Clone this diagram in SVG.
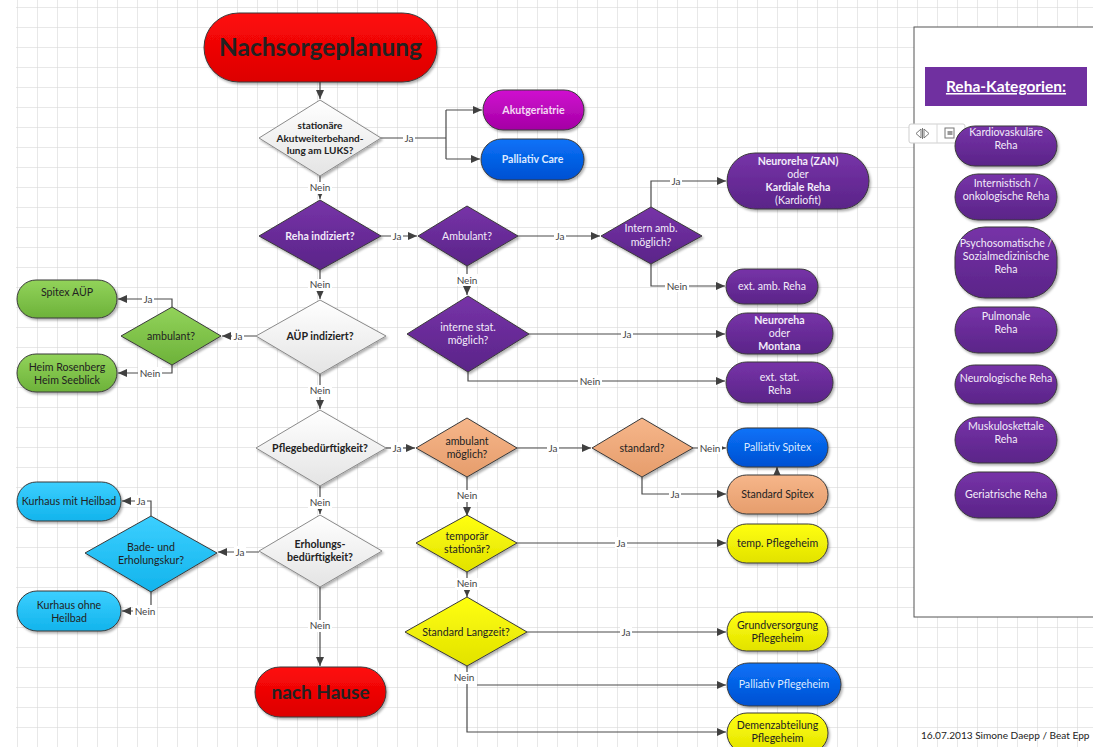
<svg xmlns="http://www.w3.org/2000/svg" width="1093" height="747" viewBox="0 0 1093 747">
<defs>
<pattern id="grid" x="17" y="7" width="20" height="20" patternUnits="userSpaceOnUse">
<path d="M0 0H20M0 0V20" fill="none" stroke="#d2d2d2" stroke-width="1"/>
</pattern>
<linearGradient id="gRed" x1="0" y1="0" x2="0" y2="1"><stop offset="0" stop-color="#ff0a0a"/><stop offset="1" stop-color="#dc0000"/></linearGradient>
<linearGradient id="gPur" x1="0" y1="0" x2="0" y2="1"><stop offset="0" stop-color="#7733a8"/><stop offset="1" stop-color="#5a2488"/></linearGradient>
<linearGradient id="gMag" x1="0" y1="0" x2="0" y2="1"><stop offset="0" stop-color="#d010d0"/><stop offset="1" stop-color="#a400a4"/></linearGradient>
<linearGradient id="gBlue" x1="0" y1="0" x2="0" y2="1"><stop offset="0" stop-color="#0a72f8"/><stop offset="1" stop-color="#0050d2"/></linearGradient>
<linearGradient id="gGreen" x1="0" y1="0" x2="0" y2="1"><stop offset="0" stop-color="#92d35a"/><stop offset="1" stop-color="#6db23a"/></linearGradient>
<linearGradient id="gOra" x1="0" y1="0" x2="0" y2="1"><stop offset="0" stop-color="#f6b68a"/><stop offset="1" stop-color="#e69d6c"/></linearGradient>
<linearGradient id="gYel" x1="0" y1="0" x2="0" y2="1"><stop offset="0" stop-color="#ffff10"/><stop offset="1" stop-color="#e2e200"/></linearGradient>
<linearGradient id="gCyan" x1="0" y1="0" x2="0" y2="1"><stop offset="0" stop-color="#3ccfff"/><stop offset="1" stop-color="#12b4ec"/></linearGradient>
<linearGradient id="gWhite" x1="0" y1="0" x2="0" y2="1"><stop offset="0" stop-color="#ffffff"/><stop offset="1" stop-color="#e4e4e4"/></linearGradient>
<filter id="sh" x="-10%" y="-10%" width="125%" height="130%"><feDropShadow dx="1.5" dy="2" stdDeviation="1.2" flood-color="#000" flood-opacity="0.3"/></filter>
<marker id="ah" markerWidth="10" markerHeight="10" refX="9" refY="5" orient="auto" markerUnits="userSpaceOnUse">
<path d="M0 1L9 5L0 9Z" fill="#404040"/>
</marker>
<style>
text{font-family:Lato,"Liberation Sans",sans-serif;font-size:10.6px;text-anchor:middle}
.b{font-weight:bold}
.w{fill:#f3ecfa}
.d{fill:#222}
.lb{fill:#dde9ff}
.node rect,.node polygon{stroke:#3a3a3a;stroke-width:1;filter:url(#sh)}
.wd polygon{stroke:#8a8a8a}
#connectors path{fill:none;stroke:#4a4a4a;stroke-width:1.2}
#connectors .a{marker-end:url(#ah)}
.lbl text{fill:#444;font-size:10px}
.lbl rect{fill:#fff}
</style>
</defs>
<rect x="0" y="0" width="1093" height="747" fill="#fff"/>
<rect x="16" y="0" width="1077" height="747" fill="url(#grid)"/>

<g id="connectors">
<path class="a" d="M320 82V99"/>
<path d="M381 138H446M446 110V159"/>
<path class="a" d="M446 110H482"/>
<path class="a" d="M446 159H480"/>
<path class="a" d="M320 176V199"/>
<path class="a" d="M381 236H417"/>
<path class="a" d="M518 236H600"/>
<path class="a" d="M651 207V181H726"/>
<path class="a" d="M651 264V286H725"/>
<path class="a" d="M467 266V295"/>
<path class="a" d="M529 334H725"/>
<path class="a" d="M468 372V381H725"/>
<path class="a" d="M320 270V299"/>
<path class="a" d="M256 336H222"/>
<path class="a" d="M172 307V299H118"/>
<path class="a" d="M172 365V373H118"/>
<path class="a" d="M320 374V409"/>
<path class="a" d="M386 448H415"/>
<path class="a" d="M517 448H591"/>
<path class="a" d="M693 448H726"/>
<path class="a" d="M642 477V494H726"/>
<path class="a" d="M777 475V467"/>
<path class="a" d="M467 477V516"/>
<path class="a" d="M517 543H726"/>
<path class="a" d="M467 572V597"/>
<path class="a" d="M527 632H726"/>
<path class="a" d="M467 666V732H726"/>
<path class="a" d="M477 685H726"/>
<path class="a" d="M320 486V514"/>
<path class="a" d="M259 552H218"/>
<path class="a" d="M151 516V501H122"/>
<path class="a" d="M151 592V611H122"/>
<path class="a" d="M320 587V666"/>
<g class="lbl">
<rect x="403" y="132" width="12" height="12"/><text x="409" y="141.5">Ja</text>
<rect x="308" y="182" width="24" height="12"/><text x="320" y="191">Nein</text>
<rect x="391" y="230" width="12" height="12"/><text x="397" y="239.5">Ja</text>
<rect x="554" y="230" width="12" height="12"/><text x="560" y="239.5">Ja</text>
<rect x="670" y="175" width="12" height="12"/><text x="676" y="184.5">Ja</text>
<rect x="665" y="280" width="24" height="12"/><text x="677" y="289.5">Nein</text>
<rect x="455" y="274" width="24" height="12"/><text x="467" y="283.5">Nein</text>
<rect x="621" y="328" width="12" height="12"/><text x="627" y="337.5">Ja</text>
<rect x="578" y="375" width="24" height="12"/><text x="590" y="384.5">Nein</text>
<rect x="308" y="279" width="24" height="12"/><text x="320" y="288">Nein</text>
<rect x="232" y="330" width="12" height="12"/><text x="238" y="339.5">Ja</text>
<rect x="142" y="293" width="12" height="12"/><text x="148" y="302.5">Ja</text>
<rect x="138" y="367" width="24" height="12"/><text x="150" y="376.5">Nein</text>
<rect x="308" y="385" width="24" height="12"/><text x="320" y="394">Nein</text>
<rect x="391" y="442" width="12" height="12"/><text x="397" y="451.5">Ja</text>
<rect x="547" y="442" width="12" height="12"/><text x="553" y="451.5">Ja</text>
<rect x="698" y="442" width="24" height="12"/><text x="710" y="451.5">Nein</text>
<rect x="669" y="488" width="12" height="12"/><text x="675" y="497.5">Ja</text>
<rect x="455" y="490" width="24" height="12"/><text x="467" y="499">Nein</text>
<rect x="615" y="537" width="12" height="12"/><text x="621" y="546.5">Ja</text>
<rect x="455" y="578" width="24" height="12"/><text x="467" y="587">Nein</text>
<rect x="620" y="626" width="12" height="12"/><text x="626" y="635.5">Ja</text>
<rect x="452" y="672" width="24" height="12"/><text x="464" y="681">Nein</text>
<rect x="308" y="497" width="24" height="12"/><text x="320" y="506">Nein</text>
<rect x="234" y="546" width="12" height="12"/><text x="240" y="555.5">Ja</text>
<rect x="135" y="495" width="12" height="12"/><text x="141" y="504.5">Ja</text>
<rect x="133" y="605" width="24" height="12"/><text x="145" y="614.5">Nein</text>
<rect x="308" y="620" width="24" height="12"/><text x="320" y="629">Nein</text>
</g>
</g>

<g id="n-start" class="node"><rect x="204" y="13" width="233" height="69" rx="34.5" fill="url(#gRed)"/><text x="320.5" y="55.5" class="b d" style="font-size:24.5px">Nachsorgeplanung</text></g>

<g id="n-stationaer" class="node wd"><polygon points="320,100 381,138 320,176 259,138" fill="url(#gWhite)"/>
<text class="b d" x="320" y="129" style="font-size:10px">stationäre</text><text class="b d" x="320" y="141.5" style="font-size:10px">Akutweiterbehand-</text><text class="b d" x="320" y="154" style="font-size:10px">lung am LUKS?</text></g>

<g id="n-akutger" class="node"><rect x="483" y="90" width="101" height="40" rx="20" fill="url(#gMag)"/><text class="b" x="533.5" y="114" style="fill:#f4d8f4">Akutgeriatrie</text></g>
<g id="n-palcare" class="node"><rect x="481" y="139" width="103" height="41" rx="20.5" fill="url(#gBlue)"/><text class="b lb" x="532.5" y="163">Palliativ Care</text></g>

<g id="n-reha" class="node"><polygon points="320,200 381,236 320,270 259,236" fill="url(#gPur)"/><text class="b w" x="320" y="239.5">Reha indiziert?</text></g>
<g id="n-ambulant" class="node"><polygon points="467,206 518,236 467,266 418,236" fill="url(#gPur)"/><text class="w" x="467" y="239.5">Ambulant?</text></g>
<g id="n-internamb" class="node"><polygon points="651,207 702,236 651,264 601,236" fill="url(#gPur)"/><text class="w" x="651" y="232">Intern amb.</text><text class="w" x="651" y="245.5">möglich?</text></g>
<g id="n-neuroZAN" class="node"><rect x="727" y="153" width="142" height="56" rx="28" fill="url(#gPur)"/>
<text class="b w" x="798" y="164.5">Neuroreha (ZAN)</text><text class="w" x="798" y="177.5">oder</text><text class="b w" x="798" y="190.5">Kardiale Reha</text><text class="w" x="798" y="204">(Kardiofit)</text></g>
<g id="n-extamb" class="node"><rect x="726" y="269" width="92" height="35" rx="17.5" fill="url(#gPur)"/><text class="w" x="772" y="290">ext. amb. Reha</text></g>
<g id="n-internstat" class="node"><polygon points="468,296 529,334 468,372 407,334" fill="url(#gPur)"/><text class="w" x="468" y="330.5">interne stat.</text><text class="w" x="468" y="343.5">möglich?</text></g>
<g id="n-neuroMont" class="node"><rect x="726" y="313" width="107" height="41" rx="20.5" fill="url(#gPur)"/>
<text class="b w" x="779.5" y="323.5">Neuroreha</text><text class="w" x="779.5" y="336.5">oder</text><text class="b w" x="779.5" y="350">Montana</text></g>
<g id="n-extstat" class="node"><rect x="726" y="362" width="107" height="41" rx="20.5" fill="url(#gPur)"/><text class="w" x="779.5" y="380.5">ext. stat.</text><text class="w" x="779.5" y="393.5">Reha</text></g>

<g id="n-aeup" class="node wd"><polygon points="320,300 386,336 320,374 256,336" fill="url(#gWhite)"/><text class="b d" x="320" y="339.5">AÜP indiziert?</text></g>
<g id="n-ambgreen" class="node"><polygon points="172,307 221,336 172,365 121,336" fill="url(#gGreen)"/><text class="d" x="171" y="339.5">ambulant?</text></g>
<g id="n-spitexaeup" class="node"><rect x="17" y="280" width="100" height="38" rx="19" fill="url(#gGreen)"/><text class="d" x="67" y="295.5">Spitex AÜP</text></g>
<g id="n-heim" class="node"><rect x="17" y="354" width="100" height="38" rx="19" fill="url(#gGreen)"/><text class="d" x="67" y="370.5">Heim Rosenberg</text><text class="d" x="67" y="383.5">Heim Seeblick</text></g>

<g id="n-pflege" class="node wd"><polygon points="320,410 386,448 320,486 256,448" fill="url(#gWhite)"/><text class="b d" x="320" y="451.5">Pflegebedürftigkeit?</text></g>
<g id="n-ambmoeg" class="node"><polygon points="467,418 517,448 467,477 416,448" fill="url(#gOra)"/><text class="d" x="467" y="444.5">ambulant</text><text class="d" x="467" y="457.5">möglich?</text></g>
<g id="n-standard" class="node"><polygon points="642,418 693,448 642,477 592,448" fill="url(#gOra)"/><text class="d" x="642" y="451.5">standard?</text></g>
<g id="n-palspitex" class="node"><rect x="727" y="428" width="101" height="39" rx="19.5" fill="url(#gBlue)"/><text class="lb" x="777.5" y="451">Palliativ Spitex</text></g>
<g id="n-stdspitex" class="node"><rect x="727" y="475" width="101" height="39" rx="19.5" fill="url(#gOra)"/><text class="d" x="777.5" y="498">Standard Spitex</text></g>

<g id="n-temporaer" class="node"><polygon points="467,515 517,543 467,572 416,543" fill="url(#gYel)"/><text class="d" x="467" y="540">temporär</text><text class="d" x="467" y="553">stationär?</text></g>
<g id="n-temppfl" class="node"><rect x="727" y="524" width="101" height="39" rx="19.5" fill="url(#gYel)"/><text class="d" x="777.5" y="547">temp. Pflegeheim</text></g>
<g id="n-langzeit" class="node"><polygon points="467,597 527,632 467,666 405,632" fill="url(#gYel)"/><text class="d" x="466" y="635.5">Standard Langzeit?</text></g>
<g id="n-grundv" class="node"><rect x="727" y="612" width="101" height="39" rx="19.5" fill="url(#gYel)"/><text class="d" x="777.5" y="628.5">Grundversorgung</text><text class="d" x="777.5" y="641.5">Pflegeheim</text></g>
<g id="n-palpfl" class="node"><rect x="727" y="663" width="114" height="43" rx="21.5" fill="url(#gBlue)"/><text class="lb" x="784" y="688">Palliativ Pflegeheim</text></g>
<g id="n-demenz" class="node"><rect x="727" y="713" width="101" height="40" rx="20" fill="url(#gYel)"/><text class="d" x="777.5" y="728.5">Demenzabteilung</text><text class="d" x="777.5" y="741.5">Pflegeheim</text></g>

<g id="n-erholung" class="node wd"><polygon points="320,515 382,551 320,587 259,551" fill="url(#gWhite)"/><text class="b d" x="320" y="547.5">Erholungs-</text><text class="b d" x="320" y="560.5">bedürftigkeit?</text></g>
<g id="n-bade" class="node"><polygon points="151,516 217,553 151,592 85,553" fill="url(#gCyan)"/><text class="d" x="151" y="550.5">Bade- und</text><text class="d" x="151" y="563.5">Erholungskur?</text></g>
<g id="n-kurmit" class="node"><rect x="17" y="482" width="104" height="39" rx="19.5" fill="url(#gCyan)"/><text class="d" x="69" y="505">Kurhaus mit Heilbad</text></g>
<g id="n-kurohne" class="node"><rect x="17" y="591" width="104" height="40" rx="20" fill="url(#gCyan)"/><text class="d" x="69" y="608.5">Kurhaus ohne</text><text class="d" x="69" y="621.5">Heilbad</text></g>
<g id="n-hause" class="node"><rect x="255" y="667" width="131" height="50" rx="25" fill="url(#gRed)"/><text class="b d" x="320.5" y="699" style="font-size:19px">nach Hause</text></g>

<g id="panel">
<rect x="914" y="27" width="190" height="590" fill="#fff" stroke="#555" stroke-width="1"/>
<rect x="925" y="67" width="162" height="39" fill="#7030a0"/>
<text class="b" x="1006" y="92" style="font-size:15.5px;fill:#fff;text-decoration:underline">Reha-Kategorien:</text>
<g id="toolbar"><rect x="909" y="124" width="56" height="19" rx="2" fill="#fff" stroke="#cfcfcf"/><line x1="937" y1="124" x2="937" y2="143" stroke="#d8d8d8"/>
<path d="M921 129L916 133.5L921 138ZM924 129L929 133.5L924 138Z" fill="none" stroke="#777" stroke-width="1"/><line x1="922.5" y1="128" x2="922.5" y2="139" stroke="#777"/>
<rect x="945" y="128" width="9" height="10" fill="none" stroke="#777"/><rect x="947.5" y="131" width="5" height="4" fill="#999"/></g>
</g>
<g id="n-kardio" class="node"><rect x="955" y="126" width="102" height="40" rx="20" fill="url(#gPur)"/><text class="w" x="1006" y="135.5">Kardiovaskuläre</text><text class="w" x="1006" y="148.5">Reha</text></g>
<g id="n-intern" class="node"><rect x="955" y="174" width="102" height="46" rx="23" fill="url(#gPur)"/><text class="w" x="1006" y="186.5">Internistisch /</text><text class="w" x="1006" y="199.5">onkologische Reha</text></g>
<g id="n-psycho" class="node"><rect x="955" y="227" width="102" height="71" rx="30" fill="url(#gPur)"/><text class="w" x="1006" y="246.5">Psychosomatische /</text><text class="w" x="1006" y="259.5">Sozialmedizinische</text><text class="w" x="1006" y="273">Reha</text></g>
<g id="n-pulmo" class="node"><rect x="955" y="307" width="102" height="46" rx="23" fill="url(#gPur)"/><text class="w" x="1006" y="319.5">Pulmonale</text><text class="w" x="1006" y="332.5">Reha</text></g>
<g id="n-neuro" class="node"><rect x="955" y="365" width="102" height="39" rx="19.5" fill="url(#gPur)"/><text class="w" x="1006" y="381.5">Neurologische Reha</text></g>
<g id="n-musk" class="node"><rect x="955" y="417" width="102" height="46" rx="23" fill="url(#gPur)"/><text class="w" x="1006" y="429.5">Muskuloskettale</text><text class="w" x="1006" y="442.5">Reha</text></g>
<g id="n-geri" class="node"><rect x="955" y="472" width="102" height="46" rx="23" fill="url(#gPur)"/><text class="w" x="1006" y="497.5">Geriatrische Reha</text></g>

<text x="921" y="739" style="text-anchor:start;fill:#222;font-size:10.1px">16.07.2013 Simone Daepp / Beat Epp</text>
</svg>
